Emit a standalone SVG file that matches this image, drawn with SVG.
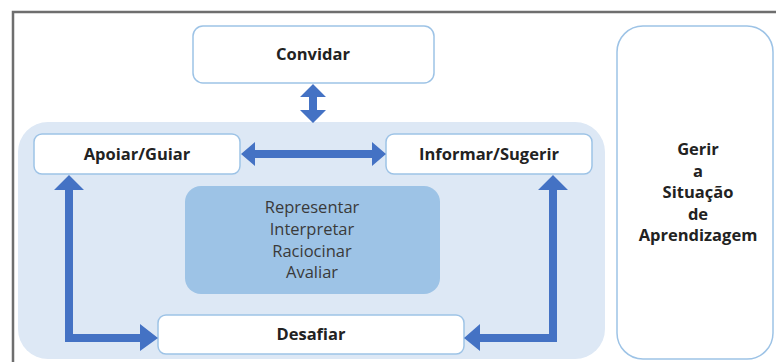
<svg xmlns="http://www.w3.org/2000/svg" width="776" height="362" viewBox="0 0 776 362">
<style>
.box{fill:#fff;stroke:#9dc3e6;stroke-width:1.5}
.b{font-family:"Open Sans","Liberation Sans",sans-serif;font-weight:bold;font-size:16.5px;fill:#222;text-anchor:middle}
.n{font-family:"Open Sans","Liberation Sans",sans-serif;font-size:16.5px;fill:#3a3a3a;text-anchor:middle}
.arr{fill:#4472c4}
</style>
<rect width="776" height="362" fill="#fff"/>
<path d="M13,362 V12 H776" fill="none" stroke="#6e6e6e" stroke-width="2.5"/>
<rect id="container" x="18" y="122" width="587" height="237" rx="30" fill="#dde8f5"/>
<g id="convidar"><rect class="box" x="193" y="26" width="241" height="57" rx="10"/><text class="b" x="313" y="60">Convidar</text></g>
<g id="apoiar"><rect class="box" x="34" y="134" width="206" height="40" rx="8"/><text class="b" x="137" y="160">Apoiar/Guiar</text></g>
<g id="informar"><rect class="box" x="386" y="134" width="206" height="40" rx="8"/><text class="b" x="489" y="160">Informar/Sugerir</text></g>
<g id="processos"><rect x="185" y="186" width="255" height="108" rx="16" fill="#9dc3e6"/>
<text class="n" x="312" y="213">Representar</text><text class="n" x="312" y="235">Interpretar</text><text class="n" x="312" y="257">Raciocinar</text><text class="n" x="312" y="278">Avaliar</text></g>
<g id="desafiar"><rect class="box" x="158" y="315" width="306" height="39" rx="8"/><text class="b" x="311" y="340">Desafiar</text></g>
<g id="gerir"><rect class="box" x="617" y="26" width="156" height="333" rx="26"/>
<text class="b" x="698" y="155">Gerir</text><text class="b" x="698" y="177">a</text><text class="b" x="698" y="198">Situação</text><text class="b" x="698" y="220">de</text><text class="b" x="698" y="241">Aprendizagem</text></g>
<g id="connectors">
<polygon class="arr" points="313,84 326,97 317,97 317,110 326,110 313,123 300,110 309,110 309,97 300,97"/>
<polygon class="arr" points="241,154 255,142 255,150 372,150 372,142 386,154 372,166 372,158 255,158 255,166"/>
<polygon class="arr" points="69,175 84,190 73,190 73,334 140,334 140,324 158,338 140,351 140,342 65,342 65,190 54,190"/>
<polygon class="arr" points="553,175 568,190 557,190 557,342 480,342 480,351 464,338 480,324 480,334 549,334 549,190 538,190"/>
</g>
</svg>
